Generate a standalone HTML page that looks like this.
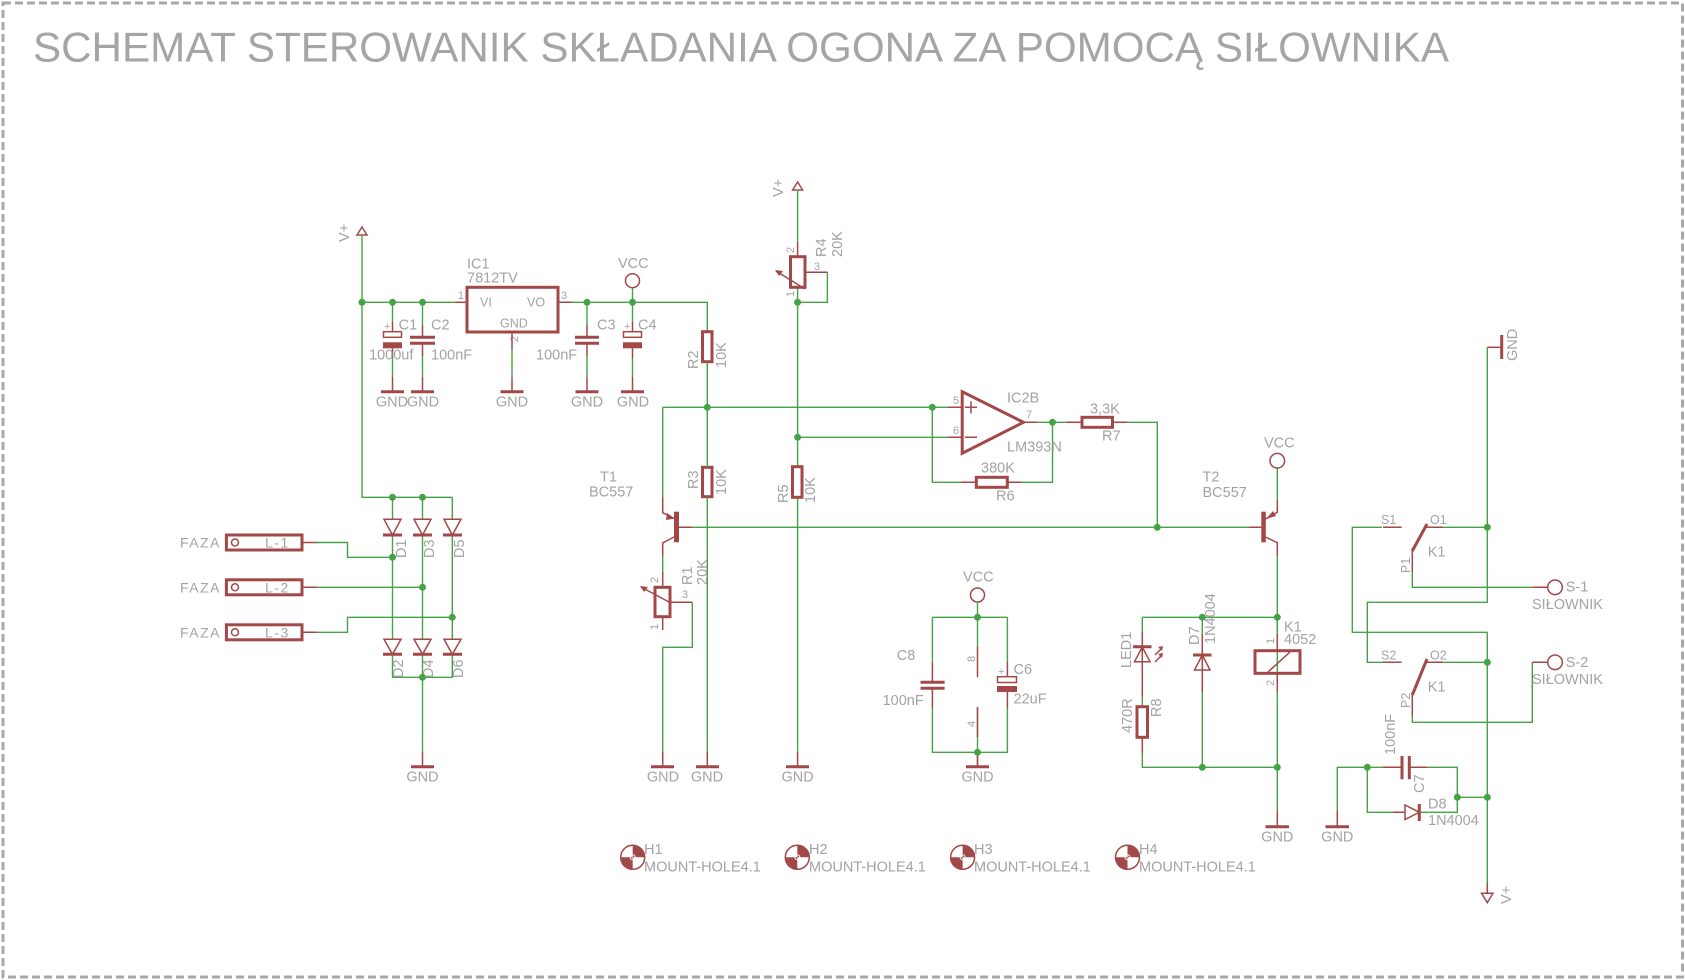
<!DOCTYPE html>
<html><head><meta charset="utf-8"><style>
html,body{margin:0;padding:0;background:#fff;}
svg{display:block;}
text{font-family:"Liberation Sans",sans-serif;fill:#a3a3a3;}
.w{stroke:#45a245;stroke-width:1.4;fill:none;}
.r{stroke:#a34848;stroke-width:3;fill:none;}
.l{stroke:#a34848;stroke-width:1.5;fill:none;}
.f{fill:#a34848;stroke:none;}
.d{fill:#45a245;}
.t{font-size:14.5px;}
.s{font-size:11px;}
</style></head><body>
<svg width="1685" height="980" viewBox="0 0 1685 980" xmlns="http://www.w3.org/2000/svg">
<rect x="3" y="3" width="1679.5" height="974" fill="none" stroke="#a8a8a8" stroke-width="3" stroke-dasharray="8,4"/>
<text x="33" y="61.7" font-size="42" textLength="1416" lengthAdjust="spacingAndGlyphs" style="fill:#a5a5a5">SCHEMAT STEROWANIK SKŁADANIA OGONA ZA POMOCĄ SIŁOWNIKA</text>

<!-- LEFT V+ -->
<polygon points="362,227 357,235 367,235" class="l" stroke-width="2"/>
<text class="t" transform="translate(349,242) rotate(-90)">V+</text>
<path class="w" d="M362,235 V497.3 H452.3 M362,302.3 H455"/>
<path class="l" d="M455,302.3 H467"/>
<!-- IC1 -->
<rect x="467" y="287.3" width="91" height="44.7" class="r"/>
<text class="s" x="458" y="299">1</text><text class="s" x="561" y="299">3</text>
<text class="s" transform="translate(518,342) rotate(-90)">2</text>
<text class="t" x="467" y="268.3">IC1</text><text class="t" x="467" y="282.7">7812TV</text>
<text x="480" y="306.7" font-size="12.5">VI</text><text x="527" y="306.7" font-size="12.5">VO</text><text x="500" y="327.3" font-size="12.5">GND</text>
<path class="l" d="M558,302.3 H572 M512,332 V350"/>
<path class="w" d="M572,302.3 H707.3 V331.7 M512,350 V376.7"/>
<!-- VCC top -->
<circle cx="632.5" cy="280.7" r="7" class="l" stroke-width="2.5"/>
<text class="t" x="618" y="268">VCC</text>
<!-- caps -->
<path class="w" d="M392.5,302.3 V322 M422.5,302.3 V325 M587,302.3 V325 M632.5,288 V322 M392.5,358 V376.7 M422.5,356 V376.7 M587,356 V376.7 M632.5,358 V376.7"/>
<path class="l" d="M392.5,322 V331.7 M392.5,348.3 V358 M422.5,325 V337 M422.5,343.5 V356 M587,325 V337 M587,343.5 V356 M632.5,322 V331.7 M632.5,348.3 V358"/>
<rect x="383.5" y="331.7" width="18" height="5.6" class="l" stroke-width="2"/><rect x="383" y="342.3" width="19" height="6" class="f"/>
<rect x="623.5" y="331.7" width="18" height="5.6" class="l" stroke-width="2"/><rect x="623" y="342.3" width="19" height="6" class="f"/>
<text class="s" x="384" y="330">+</text><text class="s" x="624" y="330">+</text>
<path class="r" d="M410,337.3 H435 M410,343.3 H435 M575,337.3 H599 M575,343.3 H599"/>
<text class="t" x="398.6" y="329.3">C1</text><text class="t" x="431" y="329.3">C2</text><text class="t" x="597" y="329.3">C3</text><text class="t" x="638" y="329.3">C4</text>
<text class="t" x="369" y="359.3">1000uf</text><text class="t" x="431" y="359.3">100nF</text><text class="t" x="536" y="359.3">100nF</text>
<!-- GNDs top -->
<path class="l" d="M392.5,376.7 V391.7 M422.5,376.7 V391.7 M512,376.7 V391.7 M587,376.7 V391.7 M632.5,376.7 V391.7"/>
<path class="r" d="M381,391.7 H404 M411,391.7 H434 M500.5,391.7 H523.5 M575.5,391.7 H598.5 M621,391.7 H644"/>
<g class="t" text-anchor="middle"><text x="392" y="406.7">GND</text><text x="423" y="406.7">GND</text><text x="512" y="406.7">GND</text><text x="587" y="406.7">GND</text><text x="633" y="406.7">GND</text></g>

<!-- Diode bridge -->
<path class="w" d="M392.5,497.3 V519 M422.5,497.3 V519 M452.3,497.3 V519 M392.5,535 V639 M422.5,535 V639 M452.3,535 V639 M392.5,654.3 V677.3 H452.3 V654.3 M422.5,654.3 V677.3 M422.5,677.3 V751.7"/>
<g class="l">
<polygon points="384,519.3 401,519.3 392.5,535"/><polygon points="414,519.3 431,519.3 422.5,535"/><polygon points="444,519.3 461,519.3 452.3,535"/>
<polygon points="384,639.3 401,639.3 392.5,654.3"/><polygon points="414,639.3 431,639.3 422.5,654.3"/><polygon points="444,639.3 461,639.3 452.3,654.3"/>
</g>
<path class="r" d="M383,535 H402 M413,535 H432 M443,535 H462 M383,654.3 H402 M413,654.3 H432 M443,654.3 H462" stroke-width="2.5"/>
<path class="l" d="M422.5,751.7 V766.7"/><path class="r" d="M411,766.7 H434"/>
<text class="t" x="422.5" y="781.7" text-anchor="middle">GND</text>
<g class="t"><text transform="translate(406,558) rotate(-90)">D1</text><text transform="translate(434,558) rotate(-90)">D3</text><text transform="translate(464,558) rotate(-90)">D5</text>
<text transform="translate(403,678) rotate(-90)">D2</text><text transform="translate(433,678) rotate(-90)">D4</text><text transform="translate(463,678) rotate(-90)">D6</text></g>
<!-- FAZA connectors -->
<g>
<rect x="226.4" y="535" width="75.6" height="15" class="r"/><circle cx="235" cy="542.5" r="3.5" class="l" stroke-width="2"/>
<rect x="226.4" y="579.8" width="75.6" height="15" class="r"/><circle cx="235" cy="587.3" r="3.5" class="l" stroke-width="2"/>
<rect x="226.4" y="624.8" width="75.6" height="15" class="r"/><circle cx="235" cy="632.3" r="3.5" class="l" stroke-width="2"/>
</g>
<g font-size="14" letter-spacing="1.5"><text x="265" y="547.7">L-1</text><text x="265" y="592.5">L-2</text><text x="265" y="637.5">L-3</text>
<text x="180" y="547.7">FAZA</text><text x="180" y="592.5">FAZA</text><text x="180" y="637.5">FAZA</text></g>
<path class="l" d="M302,542.5 H317 M302,587.3 H317 M302,632.3 H317"/>
<path class="w" d="M317,542.5 H347.5 V557.3 H392.5 M317,587.3 H422.5 M317,632.3 H347.5 V617.3 H452.3"/>

<!-- R2 R3 / T1 / R1 -->
<rect x="702.5" y="331.7" width="9.5" height="30" class="r"/>
<rect x="702.5" y="467.3" width="9.5" height="29.4" class="r"/>
<path class="w" d="M707.3,361.7 V467.3 M707.3,496.7 V751.7 M662.7,407.3 H932.3 M662.7,407.3 V497"/>
<text class="t" transform="translate(698,369) rotate(-90)">R2</text><text class="t" transform="translate(726,368) rotate(-90)">10K</text>
<text class="t" transform="translate(698,489) rotate(-90)">R3</text><text class="t" transform="translate(726,495) rotate(-90)">10K</text>
<rect x="674" y="511.7" width="5" height="30.6" class="f"/>
<path class="l" d="M662.7,497 V512.7 L674,518.5 M674,537 L662.7,543 V556.7 M679,527.3 H692.7"/>
<polygon points="667,513 675,518.5 666,520" class="f"/>
<path class="w" d="M662.7,556.7 V571.7 M692.7,527.3 H1261"/>
<text class="t" x="600" y="481.7">T1</text><text class="t" x="589" y="496.7">BC557</text>
<path class="l" d="M662.7,571.7 V587.3 M662.7,616.7 V630 M670,602.3 H692.3 M641,587 L669,602"/>
<polygon points="640,586 648,587 644,592" class="f"/>
<rect x="655" y="587.3" width="15" height="29.4" class="r"/>
<path class="w" d="M692.3,602.3 V647.3 H662.7 V751.7"/>
<text class="s" transform="translate(658,583) rotate(-90)">2</text><text class="s" x="682" y="598">3</text><text class="s" transform="translate(658,630) rotate(-90)">1</text>
<text class="t" transform="translate(692,585) rotate(-90)">R1</text><text class="t" transform="translate(707,585) rotate(-90)">20K</text>
<path class="l" d="M662.7,751.7 V766.7 M707.3,751.7 V766.7 M797.6,751.7 V766.7"/>
<path class="r" d="M651,766.7 H674 M696,766.7 H719 M786,766.7 H809"/>
<g class="t" text-anchor="middle"><text x="663" y="781.7">GND</text><text x="707" y="781.7">GND</text><text x="797.6" y="781.7">GND</text></g>

<!-- R4 / R5 -->
<polygon points="797.6,182 792.6,190 802.6,190" class="l" stroke-width="2"/>
<text class="t" transform="translate(783,197) rotate(-90)">V+</text>
<path class="w" d="M797.6,190 V242 M827.4,272.3 V302.3 H797.6 V287.3 M797.6,302.3 V466.7 M797.6,497.3 V751.7 M797.6,437.3 H948"/>
<path class="l" d="M797.6,242 V256.7 M805,272.3 H827.4 M776,271 L805,289" stroke-width="1.3"/>
<polygon points="775,270 783,271 779,276" class="f"/>
<rect x="790.5" y="256.7" width="14.5" height="30.6" class="r"/>
<text class="s" transform="translate(794,253) rotate(-90)">2</text><text class="s" x="814" y="270">3</text><text class="s" transform="translate(794,297) rotate(-90)">1</text>
<text class="t" transform="translate(826,257) rotate(-90)">R4</text><text class="t" transform="translate(842,257) rotate(-90)">20K</text>
<rect x="792.5" y="466.7" width="9.5" height="30.6" class="r"/>
<text class="t" transform="translate(788,503) rotate(-90)">R5</text><text class="t" transform="translate(815,503) rotate(-90)">10K</text>

<!-- Opamp -->
<polygon points="962.2,391.7 962.2,453.3 1023.4,422.3" class="r" stroke-linejoin="miter"/>
<path class="l" d="M948,407.3 H962 M948,437.3 H962 M1023.4,422.3 H1037 M965,407.3 H977 M971,401.3 V413.3 M965,437.3 H977"/>
<path class="w" d="M932.3,407.3 H948 M1037,422.3 H1067 M932.3,407.3 V482.3 H961 M1022,482.3 H1052.5 V422.3 M1127,422.3 H1157.3 V527.3"/>
<path class="l" d="M961,482.3 H976.3 M1007.3,482.3 H1022 M1067,422.3 H1082 M1112.5,422.3 H1127"/>
<rect x="976.3" y="477.3" width="31" height="10" class="r"/>
<rect x="1082" y="417.3" width="30.5" height="10" class="r"/>
<text class="s" x="953" y="404">5</text><text class="s" x="953" y="434">6</text><text class="s" x="1026" y="418">7</text>
<text class="t" x="1007" y="402.7">IC2B</text><text class="t" x="1007" y="451.7">LM393N</text>
<text class="t" x="1090" y="413.3">3,3K</text><text class="t" x="1102" y="440.7">R7</text>
<text class="t" x="981" y="472.7">380K</text><text class="t" x="996" y="500.7">R6</text>

<!-- T2 -->
<rect x="1261.3" y="511.7" width="4.5" height="30.6" class="f"/>
<path class="l" d="M1249,527.3 H1261.3 M1265.5,519 L1277.3,512.3 V500 M1265.5,537 L1277.3,542.7 V556"/>
<polygon points="1266,519 1273,511 1276,516" class="f"/>
<path class="w" d="M1277.3,500 V468.5 M1277.3,556 V767.3 M1277.3,767.3 V811"/>
<circle cx="1277.3" cy="460.7" r="7.3" class="l" stroke-width="2.5"/>
<text class="t" x="1264" y="447.3">VCC</text>
<text class="t" x="1202.5" y="481.7">T2</text><text class="t" x="1202.5" y="497">BC557</text>

<!-- C8 C6 block -->
<circle cx="977.5" cy="595" r="7" class="l" stroke-width="2.5"/>
<text class="t" x="963" y="581.7">VCC</text>
<path class="w" d="M977.5,602 V617.3 M932.4,617.3 H1007.4 M932.4,617.3 V662 M932.4,708 V752.3 H1007.4 V708 M1007.4,617.3 V662 M977.5,617.3 V647 M977.5,707.3 V766.7"/>
<path class="l" d="M932.4,662 V682 M932.4,688 V708 M1007.4,662 V676.7 M1007.4,692 V708 M977.5,647 V677.3 M977.5,707.3 V737"/>
<path class="r" d="M920.5,682.3 H944.6 M920.5,688.3 H944.6"/>
<rect x="997.5" y="676.7" width="19" height="5.8" class="l" stroke-width="2"/><rect x="997" y="686" width="20" height="6" class="f"/>
<text class="s" x="998" y="675">+</text>
<text class="s" transform="translate(975,662) rotate(-90)">8</text><text class="s" transform="translate(975,727) rotate(-90)">4</text>
<text class="t" x="896.8" y="660">C8</text><text class="t" x="882.6" y="705">100nF</text><text class="t" x="1013.5" y="674">C6</text><text class="t" x="1013.5" y="703.3">22uF</text>
<path class="l" d="M977.5,751.7 V766.7"/><path class="r" d="M966,766.7 H989"/>
<text class="t" x="977.5" y="781.7" text-anchor="middle">GND</text>

<!-- LED D7 K1 -->
<path class="w" d="M1142.3,617.3 H1277.3 M1142.3,617.3 V632 M1142.3,697 V706.7 M1142.3,753 V767.3 H1277.3 M1202.3,617.3 V634 M1202.3,692 V767.3 M1277.3,617.3 V634"/>
<path class="l" d="M1142.3,632 V697 M1142.3,737.3 V753 M1202.3,634 V692 M1277.3,634 V650.7 M1277.3,673.3 V692"/>
<polygon points="1134.5,661.7 1150,661.7 1142.3,647" class="l" stroke-width="2.5"/>
<path class="r" d="M1133,646.7 H1151.5 M1193,655 H1211.5" stroke-width="2.5"/>
<polygon points="1194.5,670 1210,670 1202.3,655" class="l" stroke-width="2.5"/>
<path class="l" d="M1155,655 L1162,648 M1155,662 L1162,655"/>
<polygon points="1163,646 1158,647 1162,651" class="f"/><polygon points="1163,653 1158,654 1162,658" class="f"/>
<rect x="1137" y="706.7" width="10.5" height="30.6" class="r"/>
<rect x="1255" y="650.7" width="45" height="22.6" class="r"/>
<path class="l" d="M1268,672 L1290,652" stroke-width="1"/>
<text class="s" transform="translate(1274,644) rotate(-90)">1</text><text class="s" transform="translate(1274,686) rotate(-90)">2</text>
<text class="t" x="1284" y="631.7">K1</text><text class="t" x="1284" y="644">4052</text>
<text class="t" transform="translate(1131,668) rotate(-90)">LED1</text>
<text class="t" transform="translate(1199,645) rotate(-90)">D7</text><text class="t" transform="translate(1215,644) rotate(-90)">1N4004</text>
<text class="t" transform="translate(1132,733) rotate(-90)">470R</text><text class="t" transform="translate(1161,717) rotate(-90)">R8</text>
<path class="l" d="M1277.3,811 V826.7"/><path class="r" d="M1265.5,826.7 H1289"/>
<text class="t" x="1277.3" y="841.7" text-anchor="middle">GND</text>

<!-- Right switch section -->
<path class="l" d="M1487.3,347.3 H1501.7"/><path class="r" d="M1501.7,335 V359"/>
<text class="t" transform="translate(1517,361) rotate(-90)">GND</text>
<path class="w" d="M1487.3,347.3 V602.3 H1367.3 V662.3 H1383 M1487.3,632.3 V893 M1382,527.3 H1352.3 V632.3 H1487.3 M1443,527.3 H1487.3 M1443,662.3 H1487.3 M1412.3,572 V587.3 H1532.3 M1412.3,716.7 V722.3 H1532.3 V662.3"/>
<path class="l" d="M1383,527.3 H1401.7 M1383,662.3 H1401.7 M1425,527.3 H1443 M1425,662.3 H1443 M1412.3,548 V572 M1412.3,692 V716.7 M1532.3,587.3 H1547.5 M1532.3,662.3 H1547.5"/>
<path class="r" d="M1412.3,551 L1427,524 M1412.3,695 L1427,659" stroke-width="2.5"/>
<circle cx="1555" cy="587.3" r="7.3" class="l" stroke-width="2.5"/><circle cx="1555" cy="662.3" r="7.3" class="l" stroke-width="2.5"/>
<g font-size="12.5"><text x="1381" y="524">S1</text><text x="1430" y="524">O1</text><text x="1381" y="659.3">S2</text><text x="1430" y="659.3">O2</text></g>
<text class="t" x="1427.7" y="556.7">K1</text><text class="t" x="1427.7" y="691.7">K1</text>
<text font-size="12.5" transform="translate(1410,573) rotate(-90)">P1</text><text font-size="12.5" transform="translate(1410,708) rotate(-90)">P2</text>
<text class="t" x="1565.7" y="591.7">S-1</text><text class="t" x="1532" y="609">SIŁOWNIK</text>
<text class="t" x="1565.7" y="667">S-2</text><text class="t" x="1532" y="684">SIŁOWNIK</text>
<!-- C7 D8 -->
<path class="w" d="M1337.3,811 V767.3 H1382.7 M1427.7,767.3 H1457.3 V812.3 H1420 M1367.3,767.3 V812.3 H1393 M1457.3,797.3 H1487.3"/>
<path class="r" d="M1402,756 V779.3 M1409.3,756 V779.3"/>
<path class="l" d="M1382.7,767.3 H1402 M1409.3,767.3 H1427.7 M1393,812.3 H1405 M1337.3,811 V826.7"/>
<polygon points="1405,805 1405,819.5 1419.3,812.3" class="l" stroke-width="2.5"/>
<path class="r" d="M1419.3,804 V821" stroke-width="2.5"/>
<path class="r" d="M1325.5,826.7 H1349"/>
<text class="t" x="1337.3" y="841.7" text-anchor="middle">GND</text>
<text class="t" transform="translate(1395,755) rotate(-90)">100nF</text><text class="t" transform="translate(1424,793) rotate(-90)">C7</text>
<text class="t" x="1428" y="808.3">D8</text><text class="t" x="1428" y="825">1N4004</text>
<path class="l" d="M1487.3,883 V893"/>
<polygon points="1481.5,893.3 1493,893.3 1487.3,902.7" class="l" stroke-width="2"/>
<text class="t" transform="translate(1511,904) rotate(-90)">V+</text>

<!-- junction dots -->
<g class="d">
<circle cx="362" cy="302.3" r="3.5"/><circle cx="392.5" cy="302.3" r="3.5"/><circle cx="422.5" cy="302.3" r="3.5"/>
<circle cx="587" cy="302.3" r="3.5"/><circle cx="632.5" cy="302.3" r="3.5"/>
<circle cx="392.5" cy="497.3" r="3.5"/><circle cx="422.5" cy="497.3" r="3.5"/>
<circle cx="392.5" cy="557.3" r="3.5"/><circle cx="422.5" cy="587.3" r="3.5"/><circle cx="452.3" cy="617.3" r="3.5"/><circle cx="422.5" cy="677.3" r="3.5"/>
<circle cx="707.3" cy="407.3" r="3.5"/><circle cx="797.6" cy="302.3" r="3.5"/><circle cx="797.6" cy="437.3" r="3.5"/>
<circle cx="932.3" cy="407.3" r="3.5"/><circle cx="1052.5" cy="422.3" r="3.5"/><circle cx="1157.3" cy="527.3" r="3.5"/>
<circle cx="977.5" cy="617.3" r="3.5"/><circle cx="977.5" cy="752.3" r="3.5"/>
<circle cx="1202.3" cy="617.3" r="3.5"/><circle cx="1277.3" cy="617.3" r="3.5"/><circle cx="1202.3" cy="767.3" r="3.5"/><circle cx="1277.3" cy="767.3" r="3.5"/>
<circle cx="1487.3" cy="527.3" r="3.5"/><circle cx="1487.3" cy="662.3" r="3.5"/><circle cx="1367.3" cy="767.3" r="3.5"/><circle cx="1457.3" cy="797.3" r="3.5"/><circle cx="1487.3" cy="797.3" r="3.5"/>
</g>

<!-- mount holes -->
<g transform="translate(632.7,857.3)"><circle r="12" fill="#fff" class="l" stroke-width="2"/><path d="M0,0 V-12 A12,12 0 0 1 12,0 Z M0,0 V12 A12,12 0 0 1 -12,0 Z" class="f"/><circle r="2.5" fill="none" stroke="#fff" stroke-width="1"/></g>
<g transform="translate(797.3,857.3)"><circle r="12" fill="#fff" class="l" stroke-width="2"/><path d="M0,0 V-12 A12,12 0 0 1 12,0 Z M0,0 V12 A12,12 0 0 1 -12,0 Z" class="f"/><circle r="2.5" fill="none" stroke="#fff" stroke-width="1"/></g>
<g transform="translate(962.6,857.3)"><circle r="12" fill="#fff" class="l" stroke-width="2"/><path d="M0,0 V-12 A12,12 0 0 1 12,0 Z M0,0 V12 A12,12 0 0 1 -12,0 Z" class="f"/><circle r="2.5" fill="none" stroke="#fff" stroke-width="1"/></g>
<g transform="translate(1127.5,857.3)"><circle r="12" fill="#fff" class="l" stroke-width="2"/><path d="M0,0 V-12 A12,12 0 0 1 12,0 Z M0,0 V12 A12,12 0 0 1 -12,0 Z" class="f"/><circle r="2.5" fill="none" stroke="#fff" stroke-width="1"/></g>
<g class="t"><text x="644" y="854">H1</text><text x="644" y="871.7">MOUNT-HOLE4.1</text>
<text x="809" y="854">H2</text><text x="809" y="871.7">MOUNT-HOLE4.1</text>
<text x="974" y="854">H3</text><text x="974" y="871.7">MOUNT-HOLE4.1</text>
<text x="1139" y="854">H4</text><text x="1139" y="871.7">MOUNT-HOLE4.1</text></g>
</svg>
</body></html>
